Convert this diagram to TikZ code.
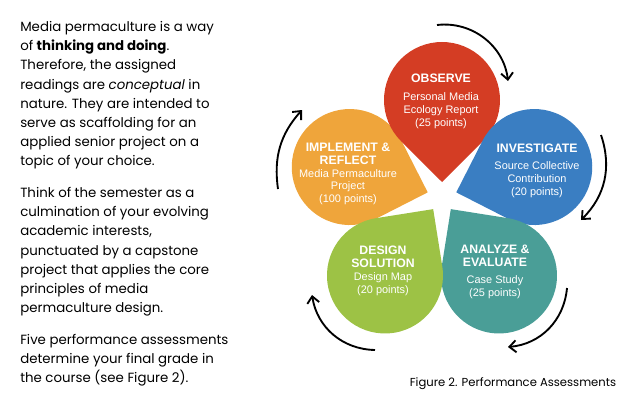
\documentclass[tikz,border=0pt]{standalone}
\usepackage{fontspec}
\setsansfont{Liberation Sans}
\newfontfamily\gothic{Poppins}
\usetikzlibrary{arrows.meta}
\definecolor{obsred}{RGB}{212,61,36}
\definecolor{invblue}{RGB}{58,126,194}
\definecolor{anateal}{RGB}{74,158,151}
\definecolor{desgreen}{RGB}{157,194,69}
\definecolor{implorange}{RGB}{239,165,59}
\newcommand{\petalhead}[1]{{\bfseries\fontsize{9.2}{10.5}\selectfont #1}}
\begin{document}
\begin{tikzpicture}[x=0.75pt,y=0.75pt,
    petaltext/.style={text=white,align=center,inner sep=0pt,font=\sffamily\fontsize{8.2}{9.6}\selectfont},
    bodytext/.style={anchor=north west,align=left,inner sep=0pt,font=\gothic\fontsize{10}{14.4}\selectfont},
    cyclearrow/.style={-{Straight Barb[length=5pt,width=9pt]},line width=1.4pt}]
  \useasboundingbox (0,0) rectangle (640,412);
  % text on the left
  \node[bodytext] (intro) at (20,391) {Media permaculture is a way\\of \textbf{thinking and doing}.\\Therefore, the assigned\\readings are \textit{conceptual} in\\nature. They are intended to\\serve as scaffolding for an\\applied senior project on a\\topic of your choice.};
  \node[bodytext] (semester) at (20,225) {Think of the semester as a\\culmination of your evolving\\academic interests,\\punctuated by a capstone\\project that applies the core\\principles of media\\permaculture design.};
  \node[bodytext] (grade) at (20,78) {Five performance assessments\\determine your final grade in\\the course (see Figure 2).};
  % petals
  \coordinate (o) at (442,215);
  \foreach \a/\col in {162/implorange,90/obsred,18/invblue,-54/anateal,-126/desgreen}{
    \fill[\col,shift={(o)},rotate=\a] (15,0) -- (55.99,-41.01) arc[start angle=225,end angle=495,radius=58] -- cycle;
  }
  \node[petaltext] (observe) at (441,311) {\petalhead{OBSERVE}\\[4pt]Personal Media\\Ecology Report\\(25 points)};
  \node[petaltext] (investigate) at (537,241) {\petalhead{INVESTIGATE}\\[3pt]Source Collective\\Contribution\\(20 points)};
  \node[petaltext] (analyze) at (495,140) {\petalhead{ANALYZE \&}\\\petalhead{EVALUATE}\\[3pt]Case Study\\(25 points)};
  \node[petaltext] (design) at (383,141) {\petalhead{DESIGN}\\\petalhead{SOLUTION}\\Design Map\\(20 points)};
  \node[petaltext] (implement) at (348,238) {\petalhead{IMPLEMENT \&}\\\petalhead{REFLECT}\\Media Permaculture\\Project\\(100 points)};
  % arrows round the flower
  \coordinate (a1s) at (437,387); \coordinate (a1e) at (508,331);
  \coordinate (a2s) at (601,277); \coordinate (a2e) at (581,192);
  \coordinate (a3s) at (567,124); \coordinate (a3e) at (508,65);
  \coordinate (a4s) at (375,62);  \coordinate (a4e) at (312,117);
  \coordinate (a5s) at (278,223); \coordinate (a5e) at (302,302);
  \foreach \s/\e/\b in {a1s/a1e/45,a2s/a2e/32,a3s/a3e/40,a4s/a4e/40,a5s/a5e/25}
    \draw[cyclearrow] (\s) to[bend left=\b] (\e);
  \node[font=\gothic\fontsize{8.7}{10}\selectfont,inner sep=0pt] (caption) at (513,28) {Figure 2. Performance Assessments};
\end{tikzpicture}
\end{document}
